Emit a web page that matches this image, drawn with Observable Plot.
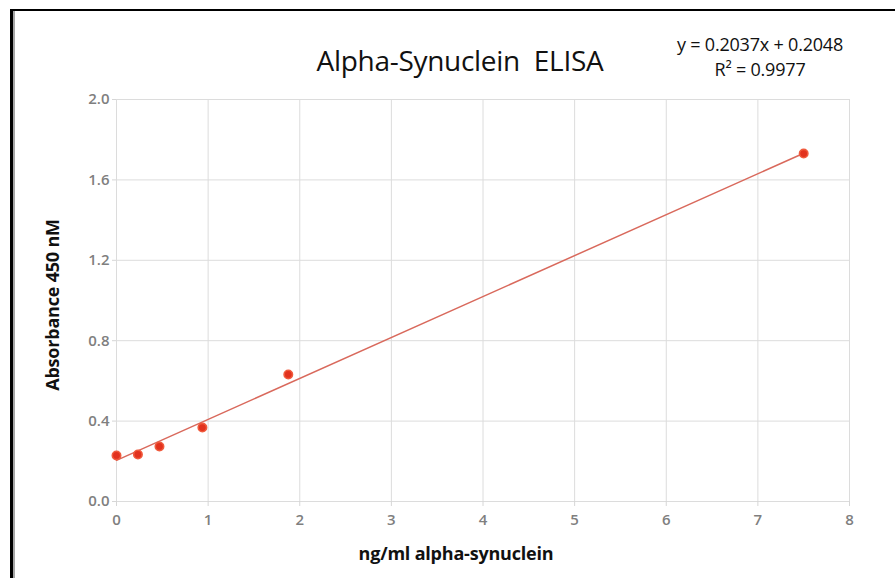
<!DOCTYPE html>
<html>
<head>
<meta charset="utf-8">
<script src="https://cdn.jsdelivr.net/npm/d3@7"></script>
<script src="https://cdn.jsdelivr.net/npm/@observablehq/plot@0.6"></script>
<style>
  html, body { margin: 0; padding: 0; background: #fff; overflow: hidden; }
  #wrap { position: relative; width: 895px; height: 578px; font-family: "Open Sans", Lato, sans-serif; }
  #frame { position: absolute; left: 10px; top: 9px; right: -5px; bottom: -5px;
           border-left: 3px solid #000; border-top: 2px solid #000;
           box-shadow: inset 2px 0 0 #a6a6a6; pointer-events: none; }
  .lbl { position: absolute; white-space: nowrap; color: #111; }
  #title { left: 460px; top: 60px; transform: translate(-50%, -50%); font-size: 28px; letter-spacing: -0.3px; }
  #eq { left: 760px; top: 57px; transform: translate(-50%, -50%); font-size: 18px; text-align: center; line-height: 25px; letter-spacing: -0.2px; }
  #xlab { left: 456px; top: 553px; transform: translate(-50%, -50%); font-size: 18px; font-weight: bold; letter-spacing: -0.2px; }
  #ylab { left: 52px; top: 305px; transform: translate(-50%, -50%) rotate(-90deg); font-size: 18px; font-weight: bold; letter-spacing: -0.2px; }
  #chart { position: absolute; left: 0; top: 0; }
</style>
</head>
<body>
<div id="wrap">
  <div id="chart"></div>
  <div id="frame"></div>
  <div class="lbl" id="title">Alpha-Synuclein&nbsp; ELISA</div>
  <div class="lbl" id="eq">y = 0.2037x + 0.2048<br>R² = 0.9977</div>
  <div class="lbl" id="xlab">ng/ml alpha-synuclein</div>
  <div class="lbl" id="ylab">Absorbance 450 nM</div>
</div>
<script>
const concentration = [0, 0.234, 0.469, 0.9375, 1.875, 7.5];
const absorbance = [0.229, 0.234, 0.274, 0.368, 0.632, 1.731];
const trendSlope = 0.2037;
const trendIntercept = 0.2048;
const trendRange = [0, 7.5];
const xTicks = [0, 1, 2, 3, 4, 5, 6, 7, 8];
const yTicks = [0, 0.4, 0.8, 1.2, 1.6, 2.0];

const points = concentration.map((c, i) => ({x: c, y: absorbance[i]}));
const trend = trendRange.map(x => ({x, y: trendSlope * x + trendIntercept}));

const chart = Plot.plot({
  width: 895,
  height: 578,
  marginLeft: 116,
  marginRight: 46,
  marginTop: 99,
  marginBottom: 77,
  style: {fontFamily: "'Open Sans', Lato, sans-serif", color: "#7f7f7f", background: "transparent"},
  x: {domain: [0, 8]},
  y: {domain: [0, 2]},
  marks: [
    Plot.gridX(xTicks, {stroke: "#dcdcdc", strokeOpacity: 1, strokeWidth: 1}),
    Plot.gridY(yTicks, {stroke: "#dcdcdc", strokeOpacity: 1, strokeWidth: 1}),
    Plot.axisX(xTicks, {tickSize: 5, tickPadding: 8, stroke: "#d6d6d6", fill: "#7f7f7f", fontSize: 15, fontWeight: 600, label: null, tickFormat: d => String(d)}),
    Plot.axisY(yTicks, {tickSize: 4, tickPadding: 3, stroke: "#d6d6d6", fill: "#7f7f7f", fontSize: 15, fontWeight: 600, label: null, tickFormat: d => d.toFixed(1)}),
    Plot.line(trend, {x: "x", y: "y", stroke: "#d9695c", strokeWidth: 1.5}),
    Plot.dot(points, {x: "x", y: "y", r: 4.2, fill: "#e2321e", stroke: "#f05a3c", strokeWidth: 1.6})
  ]
});
document.getElementById("chart").append(chart);
</script>
</body>
</html>
